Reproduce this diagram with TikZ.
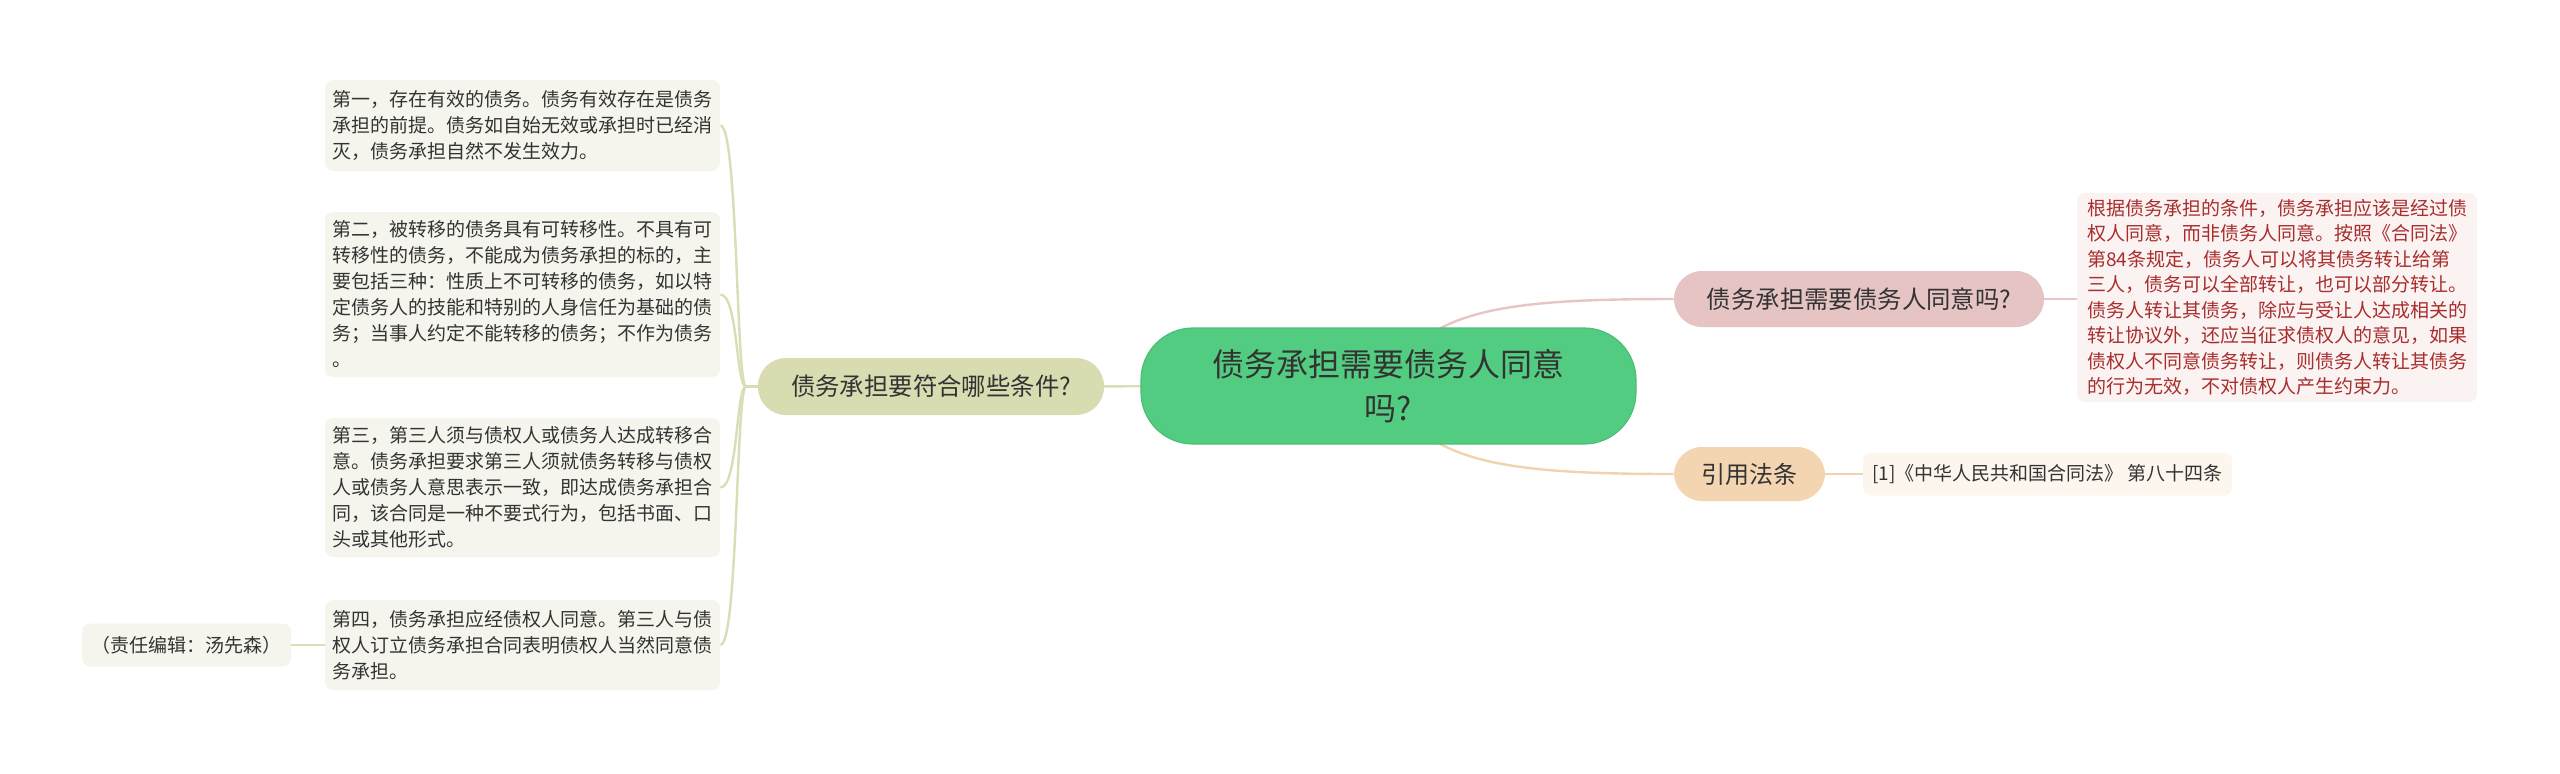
\documentclass[tikz,border=0pt]{standalone}
\usepackage{fontspec}
\newfontfamily\cjk{Noto Sans CJK SC}
\usetikzlibrary{backgrounds}
\definecolor{leafbg}{HTML}{F5F5EE}
\definecolor{lbfill}{HTML}{D9DBB0}
\definecolor{lbline}{HTML}{DADDB5}
\definecolor{rootfill}{HTML}{52CC80}
\definecolor{rootdraw}{HTML}{4CBE77}
\definecolor{rbfill}{HTML}{E6C4C4}
\definecolor{rbline}{HTML}{E8C4C4}
\definecolor{rlfill}{HTML}{FBF2F2}
\definecolor{rltext}{HTML}{A82E2E}
\definecolor{cbfill}{HTML}{F3D5B2}
\definecolor{cbline}{HTML}{F2D3B0}
\definecolor{clfill}{HTML}{FDF6EE}
\definecolor{txt}{HTML}{333333}
\begin{document}
\begin{tikzpicture}[x=0.5pt,y=-0.5pt,
  leafL/.style={rounded corners=4pt, fill=leafbg, text=txt,
    font=\cjk\fontsize{9.5pt}{13pt}\selectfont, align=left,
    text width=190pt, inner xsep=3.75pt, inner ysep=0pt},
  branchbox/.style={rounded corners=14pt, text=txt, inner sep=0pt,
    font=\cjk\fontsize{12.2pt}{14pt}\selectfont, align=center},
  smallbox/.style={rounded corners=4pt, text=txt, inner sep=0pt,
    font=\cjk\fontsize{9.5pt}{13pt}\selectfont, align=center},
  rootbox/.style={rounded corners=26pt, fill=rootfill, draw=rootdraw, line width=0.6pt,
    text=txt, inner sep=0pt, font=\cjk\fontsize{16pt}{22pt}\selectfont, align=center},
  lconn/.style={draw=lbline, line width=1.2pt},
  rconn/.style={draw=rbline, line width=1.2pt},
  cconn/.style={draw=cbline, line width=1.2pt}
]
\useasboundingbox (0,0) rectangle (2560,773);

% root
\node[rootbox, minimum width=247.5pt, minimum height=58pt] (root) at (1388.5,386) {债务承担需要债务人同意\\吗?};

% left branch
\node[branchbox, fill=lbfill, minimum width=173pt, minimum height=28.5pt] (lb) at (931,386.5) {债务承担要符合哪些条件?};
\coordinate (hub) at (746,386.5);

% left leaves
\node[leafL, minimum height=45.5pt] (l1) at (522.5,125.5) {第一，存在有效的债务。债务有效存在是债务\\承担的前提。债务如自始无效或承担时已经消\\灭，债务承担自然不发生效力。};
\node[leafL, minimum height=82.5pt] (l2) at (522.5,294.5) {第二，被转移的债务具有可转移性。不具有可\\转移性的债务，不能成为债务承担的标的，主\\要包括三种：性质上不可转移的债务，如以特\\定债务人的技能和特别的人身信任为基础的债\\务；当事人约定不能转移的债务；不作为债务\\。};
\node[leafL, minimum height=69.5pt] (l3) at (522.5,487.5) {第三，第三人须与债权人或债务人达成转移合\\意。债务承担要求第三人须就债务转移与债权\\人或债务人意思表示一致，即达成债务承担合\\同，该合同是一种不要式行为，包括书面、口\\头或其他形式。};
\node[leafL, minimum height=45pt] (l4) at (522.5,645) {第四，债务承担应经债权人同意。第三人与债\\权人订立债务承担合同表明债权人当然同意债\\务承担。};

% editor
\node[smallbox, fill=leafbg, minimum width=104.5pt, minimum height=21.5pt] (ed) at (186.5,645) {（责任编辑：汤先森）};

% right branch 1
\node[branchbox, fill=rbfill, minimum width=185pt, minimum height=28pt] (rb) at (1859,299) {债务承担需要债务人同意吗?};
\node[rounded corners=4pt, fill=rlfill, text=rltext, font=\cjk\fontsize{9.5pt}{12.75pt}\selectfont,
  align=left, text width=190pt, inner xsep=5pt, inner ysep=0pt, minimum height=104.5pt] (rl) at (2277,297.5)
  {根据债务承担的条件，债务承担应该是经过债\\权人同意，而非债务人同意。按照《合同法》\\第84条规定，债务人可以将其债务转让给第\\三人，债务可以全部转让，也可以部分转让。\\债务人转让其债务，除应与受让人达成相关的\\转让协议外，还应当征求债权人的意见，如果\\债权人不同意债务转让，则债务人转让其债务\\的行为无效，不对债权人产生约束力。};

% right branch 2
\node[branchbox, fill=cbfill, minimum width=75.5pt, minimum height=27pt, font=\cjk\fontsize{12pt}{14pt}\selectfont] (cb) at (1749.5,474) {引用法条};
\node[smallbox, fill=clfill, minimum width=184.5pt, minimum height=21.5pt] (cl) at (2047.5,474) {[1]《中华人民共和国合同法》 第八十四条};

\begin{scope}[on background layer]
  \fill[white] (0,0) rectangle (2560,773);
  \draw[lconn] (root.center) -- (lb.center);
  \draw[lconn] (lb.west) -- (hub);
  \draw[lconn] (hub) .. controls (736,386.5) and (738,125.5) .. (l1.east);
  \draw[lconn] (hub) .. controls (736,386.5) and (738,294.5) .. (l2.east);
  \draw[lconn] (hub) .. controls (736,386.5) and (738,487.5) .. (l3.east);
  \draw[lconn] (hub) .. controls (736,386.5) and (738,645) .. (l4.east);
  \draw[lconn] (l4.west) -- (ed.east);
  \draw[rconn] (root.center) .. controls (1420,310) and (1500,299) .. (rb.west);
  \draw[rconn] (rb.east) -- (rl.west |- rb.east);
  \draw[cconn] (root.center) .. controls (1420,462) and (1500,474) .. (cb.west);
  \draw[cconn] (cb.east) -- (cl.west);
\end{scope}
\end{tikzpicture}
\end{document}
